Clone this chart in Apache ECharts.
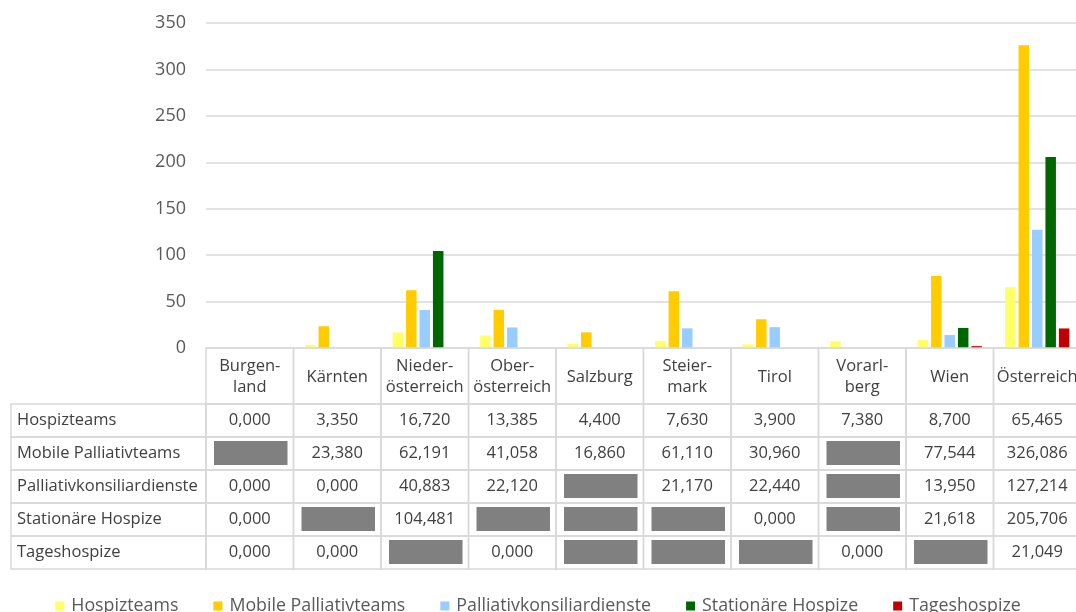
<!DOCTYPE html>
<html>
<head>
<meta charset="utf-8">
<script src="https://cdn.jsdelivr.net/npm/echarts@6/dist/echarts.min.js"></script>
<style>
  html, body { margin: 0; padding: 0; background: #fff; }
  #chart { width: 1076px; height: 612px; }
</style>
</head>
<body>
<div id="chart"></div>
<script>
// ---------- data ----------
const categories = ['Burgen-\nland', 'Kärnten', 'Nieder-\nösterreich', 'Ober-\nösterreich', 'Salzburg', 'Steier-\nmark', 'Tirol', 'Vorarl-\nberg', 'Wien', 'Österreich'];
const seriesNames = ['Hospizteams', 'Mobile Palliativteams', 'Palliativkonsiliardienste', 'Stationäre Hospize', 'Tageshospize'];
const hospizteams   = [0, 3.35, 16.72, 13.385, 4.4, 7.63, 3.9, 7.38, 8.7, 65.465];
const mobile        = [null, 23.38, 62.191, 41.058, 16.86, 61.11, 30.96, null, 77.544, 326.086];
const konsiliar     = [0, 0, 40.883, 22.12, null, 21.17, 22.44, null, 13.95, 127.214];
const stationaer    = [0, null, 104.481, null, null, null, 0, null, 21.618, 205.706];
const tageshospize  = [0, 0, null, 0, null, null, null, 0, 2, 21.049];
// table cells hidden behind grey boxes: [seriesIndex, categoryIndex]
const maskedCells = [[1,0],[1,7],[2,4],[2,7],[3,1],[3,3],[3,4],[3,5],[3,7],[4,2],[4,4],[4,5],[4,6],[4,8]];
const yTicks = { min: 0, max: 350, interval: 50 };
const colors = ['#FFFF66', '#FFCC00', '#99CCFF', '#006600', '#C00000'];

// ---------- layout constants ----------
const FONT = 'Open Sans';
const HEADER_H = 56, ROW_H = 33, LABEL_COL_W = 195;
const BORDER = '#d9d9d9';
const TEXT_COLOR = '#404040';

const values = [hospizteams, mobile, konsiliar, stationaer, tageshospize];
const isMasked = (s, c) => maskedCells.some(m => m[0] === s && m[1] === c);
const fmt = v => v.toFixed(3).replace('.', ',');

// build table cell list
const cells = [];
categories.forEach((name, c) => cells.push({ type: 'header', cat: c, row: -1, text: name }));
seriesNames.forEach((name, s) => cells.push({ type: 'rowlabel', cat: 0, row: s, text: name }));
values.forEach((arr, s) => arr.forEach((v, c) => {
  const m = isMasked(s, c);
  cells.push({ type: 'value', cat: c, row: s, masked: m, text: (m || v == null) ? '' : fmt(v) });
}));

function renderCell(params, api) {
  const cell = cells[params.dataIndex];
  const p = api.coord([cell.cat, 0]);
  const bw = api.size([1, 0])[0];
  let x, w;
  if (cell.type === 'rowlabel') { x = p[0] - bw / 2 - LABEL_COL_W; w = LABEL_COL_W; }
  else { x = p[0] - bw / 2; w = bw; }
  const y0 = p[1];
  let y, h;
  if (cell.row < 0) { y = y0; h = HEADER_H; }
  else { y = y0 + HEADER_H + cell.row * ROW_H; h = ROW_H; }
  const children = [{
    type: 'rect',
    shape: { x: x, y: y, width: w, height: h },
    style: { fill: 'rgba(0,0,0,0)', stroke: BORDER, lineWidth: 1.5 }
  }];
  if (cell.masked) {
    children.push({
      type: 'rect',
      shape: { x: x + 8, y: y + 4, width: w - 14, height: h - 9 },
      style: { fill: '#808080' }
    });
  } else if (cell.text) {
    const left = cell.type === 'rowlabel';
    children.push({
      type: 'text',
      style: {
        x: left ? x + 6 : x + w / 2,
        y: y + h / 2 + (cell.row < 0 ? 1 : 0),
        text: cell.text,
        align: left ? 'left' : 'center',
        verticalAlign: 'middle',
        fontFamily: FONT,
        fontSize: 16.5,
        lineHeight: 21,
        fill: TEXT_COLOR
      }
    });
  }
  return { type: 'group', children: children };
}

const barSeries = seriesNames.map((name, s) => ({
  name: name,
  type: 'bar',
  data: values[s],
  barWidth: 10.5,
  barGap: '28%',
  itemStyle: { color: colors[s] }
}));

const chart = echarts.init(document.getElementById('chart'), null, { renderer: 'canvas' });
chart.setOption({
  animation: false,
  textStyle: { fontFamily: FONT },
  grid: { left: 206, top: 23, width: 875, height: 325, outerBoundsMode: 'none', containLabel: false },
  legend: {
    data: seriesNames,
    left: 'center',
    top: 592,
    icon: 'rect',
    itemWidth: 9,
    itemHeight: 9,
    itemGap: 35,
    textStyle: { fontFamily: FONT, fontSize: 17.8, color: '#595959', padding: [0, 0, 0, 2] }
  },
  xAxis: {
    type: 'category',
    data: categories,
    axisLine: { show: false },
    axisTick: { show: false },
    axisLabel: { show: false }
  },
  yAxis: {
    type: 'value',
    min: yTicks.min,
    max: yTicks.max,
    interval: yTicks.interval,
    axisLine: { show: false },
    axisTick: { show: false },
    axisLabel: { fontFamily: FONT, fontSize: 18, color: '#595959', margin: 20 },
    splitLine: { lineStyle: { color: BORDER, width: 1.5 } }
  },
  series: barSeries.concat([{
    type: 'custom',
    name: 'table',
    clip: false,
    silent: true,
    renderItem: renderCell,
    data: cells.map(c => [c.cat, 0]),
    z: 3
  }])
});
</script>
</body>
</html>
